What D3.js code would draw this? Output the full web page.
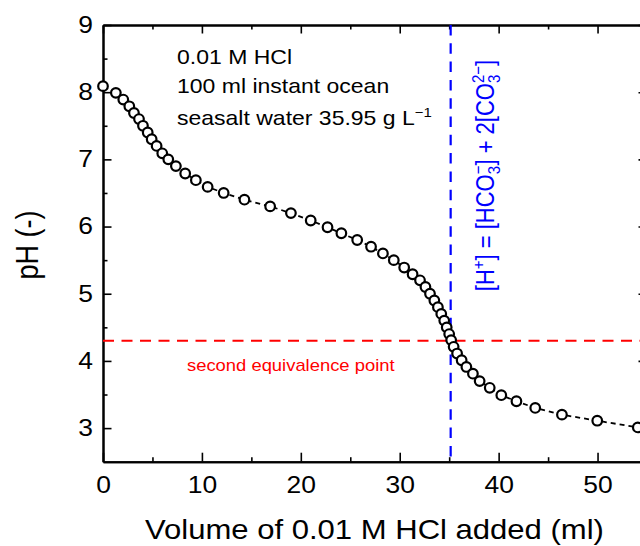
<!DOCTYPE html>
<html lang="en">
<head>
<meta charset="UTF-8">
<title>Titration curve</title>
<script src="https://cdn.jsdelivr.net/npm/d3@7"></script>
<style>
  body { margin: 0; background: white; }
  svg { display: block; font-family: "Liberation Sans", Arial, sans-serif; }
</style>
</head>
<body>
<div id="chart"></div>
<script>
// volume of 0.01 M HCl added (ml) and the pH read at that point
const volume = [0, 1.3, 2.05, 2.66, 3.13, 3.64, 4.04, 4.52, 4.92, 5.42,
                5.99, 6.6, 7.37, 8.31, 9.39, 10.58, 12.2, 14.3, 16.9, 19.0,
                21.0, 22.7, 24.1, 25.7, 27.1, 28.3, 29.4, 30.45, 31.3, 32.05,
                32.6, 33.06, 33.5, 33.86, 34.2, 34.5, 34.75, 35.0, 35.2, 35.45,
                35.8, 36.26, 36.74, 37.4, 38.08, 39.1, 40.27, 41.8, 43.7, 46.4,
                49.97, 54.07];
const pH = [8.09, 7.99, 7.89, 7.79, 7.69, 7.60, 7.50, 7.40, 7.30, 7.20,
            7.09, 7.00, 6.90, 6.79, 6.69, 6.59, 6.50, 6.40, 6.30, 6.20,
            6.09, 5.99, 5.90, 5.80, 5.70, 5.60, 5.50, 5.39, 5.29, 5.20,
            5.10, 5.00, 4.90, 4.80, 4.70, 4.60, 4.50, 4.40, 4.31, 4.21,
            4.11, 4.01, 3.91, 3.81, 3.70, 3.60, 3.49, 3.40, 3.30, 3.20,
            3.11, 3.01];

const xTicks = [0, 10, 20, 30, 40, 50];
const xMinor = [5, 15, 25, 35, 45, 55];
const yTicks = [3, 4, 5, 6, 7, 8, 9];
const yMinor = [3.5, 4.5, 5.5, 6.5, 7.5, 8.5];

const equivVolume = 35.15;   // blue line
const equivPH = 4.3;         // red line

const width = 640, height = 546;
const SX = 1.15;  // text in the original looks slightly wide

const x = d3.scaleLinear().domain([0, 55]).range([103, 647]);
const y = d3.scaleLinear().domain([2.5, 9]).range([461.7, 25]);

const svg = d3.select("#chart").append("svg")
    .attr("width", width)
    .attr("height", height);

// helper for stretched text
function addText(px, py, str, size, color, anchor) {
    return svg.append("text")
        .attr("transform", `translate(${px},${py}) scale(${SX},1)`)
        .attr("font-size", size)
        .attr("fill", color || "#000")
        .attr("text-anchor", anchor || "start")
        .text(str);
}

function styleAxis(g) {
    g.select(".domain").attr("stroke", "#000").attr("stroke-width", 2);
    g.selectAll(".tick line").attr("stroke", "#000").attr("stroke-width", 1.6);
}

// minor ticks first
svg.append("g").attr("transform", `translate(0,${y(2.5)})`)
    .call(d3.axisBottom(x).tickValues(xMinor).tickSize(-4.5).tickSizeOuter(0).tickFormat(""))
    .call(styleAxis);
svg.append("g").attr("transform", `translate(0,${y(9)})`)
    .call(d3.axisTop(x).tickValues(xMinor).tickSize(-4.5).tickSizeOuter(0).tickFormat(""))
    .call(styleAxis);
svg.append("g").attr("transform", `translate(${x(0)},0)`)
    .call(d3.axisLeft(y).tickValues(yMinor).tickSize(-4.5).tickSizeOuter(0).tickFormat(""))
    .call(styleAxis);
svg.append("g").attr("transform", `translate(${x(55)},0)`)
    .call(d3.axisRight(y).tickValues(yMinor).tickSize(-4.5).tickSizeOuter(0).tickFormat(""))
    .call(styleAxis);

// major ticks
const bottom = svg.append("g").attr("transform", `translate(0,${y(2.5)})`)
    .call(d3.axisBottom(x).tickValues(xTicks).tickSize(-9).tickSizeOuter(0)
        .tickPadding(15).tickFormat(d3.format("d")))
    .call(styleAxis);
bottom.selectAll("text")
    .attr("font-size", 23)
    .attr("font-family", "Liberation Sans, Arial, sans-serif")
    .attr("fill", "#000")
    .attr("transform", `scale(${SX},1)`);

svg.append("g").attr("transform", `translate(0,${y(9)})`)
    .call(d3.axisTop(x).tickValues(xTicks).tickSize(-8.5).tickSizeOuter(0).tickFormat(""))
    .call(styleAxis);

const left = svg.append("g").attr("transform", `translate(${x(0)},0)`)
    .call(d3.axisLeft(y).tickValues(yTicks).tickSize(-8.5).tickSizeOuter(0)
        .tickPadding(8.7).tickFormat(d3.format("d")))
    .call(styleAxis);
left.selectAll("text")
    .attr("font-size", 23)
    .attr("font-family", "Liberation Sans, Arial, sans-serif")
    .attr("fill", "#000")
    .attr("transform", `scale(${SX},1)`);

svg.append("g").attr("transform", `translate(${x(55)},0)`)
    .call(d3.axisRight(y).tickValues(yTicks).tickSize(-8.5).tickSizeOuter(0).tickFormat(""))
    .call(styleAxis);

// reference lines
svg.append("line")
    .attr("x1", x(0)).attr("x2", x(55))
    .attr("y1", y(equivPH)).attr("y2", y(equivPH))
    .attr("stroke", "#ff0000")
    .attr("stroke-width", 2.2)
    .attr("stroke-dasharray", "11,7.5");

svg.append("line")
    .attr("x1", x(equivVolume)).attr("x2", x(equivVolume))
    .attr("y1", y(9)).attr("y2", y(2.5))
    .attr("stroke", "#0000ff")
    .attr("stroke-width", 2.2)
    .attr("stroke-dasharray", "10.5,7.8");

// data
const data = volume.map((v, i) => ({ v: v, p: pH[i] }));

svg.append("path")
    .datum(data)
    .attr("fill", "none")
    .attr("stroke", "#000")
    .attr("stroke-width", 1.8)
    .attr("stroke-dasharray", "5,4")
    .attr("d", d3.line().x(d => x(d.v)).y(d => y(d.p)));

svg.append("g")
    .selectAll("circle")
    .data(data)
    .enter().append("circle")
    .attr("cx", d => x(d.v))
    .attr("cy", d => y(d.p))
    .attr("r", 4.8)
    .attr("fill", "white")
    .attr("stroke", "#000")
    .attr("stroke-width", 2.2);

// annotations
addText(177, 64, "0.01 M HCl", 20);
addText(177, 92.5, "100 ml instant ocean", 20);
const salt = addText(177, 125, "seasalt water 35.95 g L", 20);
salt.append("tspan").attr("dy", -8).attr("font-size", 13).text("\u22121");

addText(187, 370.5, "second equivalence point", 16, "#ff0000");

// charge balance label, rotated
const cb = svg.append("text")
    .attr("transform", `translate(494,175.5) rotate(-90) scale(1,${SX})`)
    .attr("font-size", 22)
    .attr("fill", "#0000ff")
    .attr("text-anchor", "middle");
cb.append("tspan").text("[H");
cb.append("tspan").attr("dy", -9).attr("font-size", 15).text("+");
cb.append("tspan").attr("dy", 9).text("] = [HCO");
cb.append("tspan").attr("dy", 5).attr("font-size", 15).text("3");
cb.append("tspan").attr("dx", -8.3).attr("dy", -14).attr("font-size", 15).text("\u2212");
cb.append("tspan").attr("dy", 9).text("] + 2[CO");
cb.append("tspan").attr("dy", 5).attr("font-size", 15).text("3");
cb.append("tspan").attr("dx", -8.3).attr("dy", -14).attr("font-size", 15).text("2\u2212");
cb.append("tspan").attr("dy", 9).text("]");

// axis titles
addText(374.5, 539, "Volume of 0.01 M HCl added (ml)", 27, "#000", "middle");

svg.append("text")
    .attr("transform", `translate(38,245) rotate(-90) scale(1,${SX})`)
    .attr("font-size", 27)
    .attr("text-anchor", "middle")
    .text("pH (-)");
</script>
</body>
</html>
